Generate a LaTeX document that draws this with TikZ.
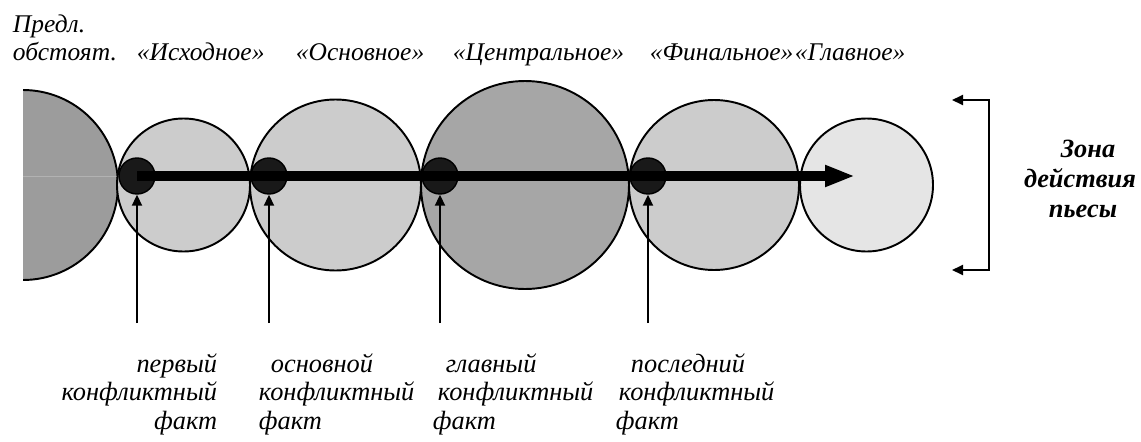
\documentclass[tikz,border=0pt]{standalone}
\usepackage{fontspec}
\setmainfont{Liberation Serif}
\usetikzlibrary{arrows.meta}
\definecolor{stagedark}{gray}{0.61}
\definecolor{stagecore}{gray}{0.65}
\definecolor{stagemid}{gray}{0.80}
\definecolor{stagelight}{gray}{0.90}
\definecolor{factgray}{gray}{0.10}
\begin{document}
\begin{tikzpicture}[line width=1.1pt,
    every node/.style={font=\fontsize{14.5}{16}\selectfont\itshape, inner sep=0pt},
    stage/.style={draw=black, line width=1.1pt},
    fact/.style={circle, draw=black, line width=0.8pt, fill=factgray, minimum size=0.72cm},
    pointer/.style={line width=1.1pt, -{Triangle[length=0.22cm,width=0.2cm]}},
    caption/.style={anchor=base west},
    factlabel/.style={font=\fontsize{15}{16}\selectfont\itshape}]
    \useasboundingbox (0,0) rectangle (22.82,8.82);
    \begin{scope}
        \clip (0.46,0) rectangle (22.82,8.82);
        \filldraw[stage, fill=stagedark] (0.46,5.12) circle (1.90);
    \end{scope}
    \draw[gray!60, line width=0.5pt] (0.46,5.30) -- (2.36,5.30);
    \filldraw[stage, fill=stagemid] (3.67,5.12) circle (1.33);
    \filldraw[stage, fill=stagemid] (6.71,5.12) circle (1.71);
    \filldraw[stage, fill=stagecore] (10.50,5.12) circle (2.08);
    \filldraw[stage, fill=stagemid] (14.28,5.12) circle (1.70);
    \filldraw[stage, fill=stagelight] (17.33,5.12) circle (1.33);

    \node[fact] (f1) at (2.74,5.30) {};
    \node[fact] (f2) at (5.38,5.30) {};
    \node[fact] (f3) at (8.80,5.30) {};
    \node[fact] (f4) at (12.96,5.30) {};
    \coordinate (tip) at (17.10,5.30);
    \draw[line width=0.2cm, -{Triangle[length=0.6cm,width=0.4cm]}] (f1.center) -- (tip);

    \coordinate (p1) at (2.74,2.36);
    \coordinate (p2) at (5.38,2.36);
    \coordinate (p3) at (8.80,2.36);
    \coordinate (p4) at (12.96,2.36);
    \draw[pointer] (p1) -- (f1.south);
    \draw[pointer] (p2) -- (f2.south);
    \draw[pointer] (p3) -- (f3.south);
    \draw[pointer] (p4) -- (f4.south);

    \coordinate (zt) at (19.04,6.82);
    \coordinate (zr1) at (19.78,6.82);
    \coordinate (zr2) at (19.78,3.42);
    \coordinate (zb) at (19.04,3.42);
    \draw[{Triangle[length=0.22cm,width=0.2cm]}-{Triangle[length=0.22cm,width=0.2cm]}] (zt) -- (zr1) -- (zr2) -- (zb);

    \node[caption] (pred) at (0.24,8.18) {Предл.};
    \node[caption] (obst) at (0.24,7.62) {обстоят.};
    \node[caption] (ish) at (2.72,7.62) {«Исходное»};
    \node[caption] (osn) at (5.90,7.62) {«Основное»};
    \node[caption] (cen) at (9.04,7.62) {«Центральное»};
    \node[caption] (fin) at (12.98,7.62) {«Финальное»};
    \node[caption] (gla) at (15.88,7.62) {«Главное»};

    \node[factlabel, anchor=base east, align=right] (l1) at (4.36,0.24) {первый\\конфликтный\\факт};
    \node[factlabel, anchor=base west, align=left] (l2) at (5.16,0.24) {\hspace*{0.24cm}основной\\конфликтный\\факт};
    \node[factlabel, anchor=base west, align=left] (l3) at (8.64,0.24) {\hspace*{0.26cm}главный\\\hspace*{0.10cm}конфликтный\\факт};
    \node[factlabel, anchor=base west, align=left] (l4) at (12.30,0.24) {\hspace*{0.30cm}последний\\\hspace*{0.06cm}конфликтный\\факт};

    \node[anchor=base, align=center, font=\fontsize{15}{16.8}\selectfont\bfseries\itshape] (zone) at (21.6,4.48) {\hspace*{0.32cm}Зона\\действия\\\hspace*{0.12cm}пьесы};
\end{tikzpicture}
\end{document}
